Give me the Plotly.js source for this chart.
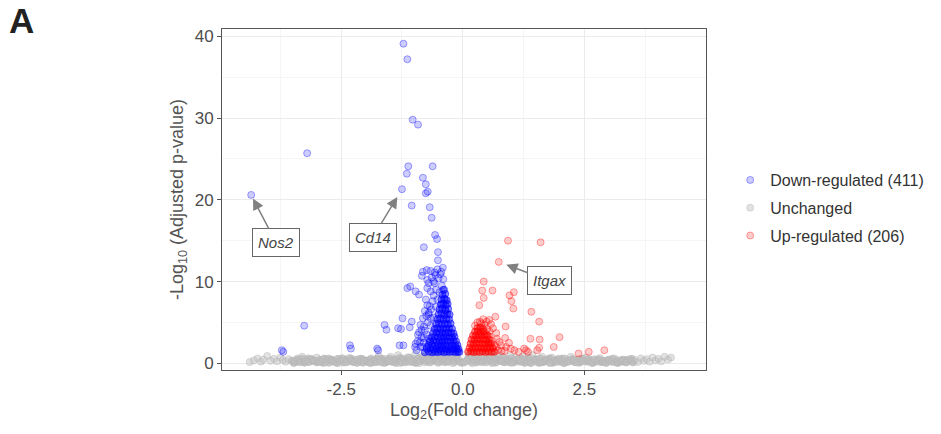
<!DOCTYPE html>
<html><head><meta charset="utf-8">
<script src="https://cdn.plot.ly/plotly-3.0.1.min.js"></script>
<style>html,body{margin:0;padding:0;background:#fff;}#chart{width:941px;height:434px;}</style>
</head><body><div id="chart"></div>
<script>
// ---- Unchanged genes (gray): sparse spread ----
const grayX = [
-4.38,-4.30,-4.22,-4.15,-4.10,-4.02,-3.95,-3.88,-3.82,-3.75,-3.70,-3.64,-3.58,-3.52,
-3.46,-3.40,-3.35,-3.30,-3.24,-3.18,-3.12,-3.06,-3.00,-2.94,-2.88,-2.82,-2.76,-2.70,-2.64,-2.58,-2.52,-2.46,-2.40,-2.34,-2.28,-2.22,-2.16,-2.10,-2.04,
-1.98,-1.93,-1.88,-1.83,-1.78,-1.73,-1.68,-1.63,-1.58,-1.53,-1.48,-1.43,-1.38,-1.33,-1.28,-1.23,-1.18,-1.13,-1.08,-1.03,-0.98,-0.93,-0.88,-0.83,-0.78,-0.73,-0.68,-0.63,-0.58,-0.53,-0.48,-0.43,-0.38,-0.33,-0.28,-0.23,-0.18,-0.13,-0.08,-0.04,
-1.90,-1.70,-1.50,-1.30,-1.10,-0.90,-0.70,-0.50,-0.30,-0.20,
-0.02,0.00,0.02,
0.04,0.08,0.13,0.18,0.23,0.28,0.33,0.38,0.43,0.48,0.53,0.58,0.63,0.68,0.73,0.78,0.83,0.88,0.93,0.98,1.03,1.08,1.13,1.18,1.23,1.28,1.33,1.38,1.43,1.48,1.53,1.58,1.63,1.68,1.73,1.78,1.83,1.88,1.93,1.98,
0.20,0.40,0.60,0.80,1.00,1.20,1.40,1.60,1.80,
2.04,2.10,2.16,2.22,2.28,2.34,2.40,2.46,2.52,2.58,2.64,2.70,2.76,2.82,2.88,2.94,3.00,3.06,3.12,3.18,3.24,3.30,3.36,3.42,3.48,
3.54,3.60,3.66,3.72,3.78,3.84,3.90,3.96,4.02,4.08,4.15,4.22,4.28
];
const grayY = [
0.15,0.35,0.60,0.20,0.45,0.90,0.30,0.55,0.25,0.70,0.40,0.20,0.50,0.30,
0.25,0.60,0.10,0.80,0.35,0.15,0.50,0.30,0.70,0.20,0.45,0.10,0.60,0.30,0.15,0.55,0.25,0.40,0.10,0.65,0.30,0.20,0.50,0.15,0.35,
0.30,0.10,0.60,0.40,0.20,0.90,0.35,0.05,0.55,0.25,0.80,0.15,0.45,1.00,0.30,0.60,0.10,0.75,0.40,0.20,1.10,0.50,0.25,0.85,0.10,0.60,1.20,0.35,0.90,0.15,1.15,0.50,0.80,0.25,1.00,0.60,0.35,0.70,0.20,0.10,
0.02,0.10,0.30,0.05,0.15,0.02,0.30,0.05,0.15,0.02,
0.05,0.10,0.20,
0.10,0.30,0.60,0.90,0.40,1.10,0.20,0.80,0.50,1.20,0.30,0.90,0.15,0.60,1.00,0.35,0.75,0.10,0.50,0.95,0.25,0.70,0.40,0.15,0.85,0.50,0.20,0.65,1.00,0.30,0.10,0.55,0.80,0.25,0.45,0.05,0.70,0.35,0.15,0.60,
0.02,0.10,0.02,0.20,0.05,0.30,0.02,0.15,0.05,
0.30,0.60,0.15,0.80,0.40,0.10,0.55,0.25,0.70,0.35,0.10,0.50,0.20,0.65,0.30,0.10,0.45,0.25,0.60,0.15,0.40,0.30,0.10,0.50,0.25,
0.40,0.15,0.60,0.30,0.50,0.20,0.70,0.35,0.55,0.25,0.80,0.45,0.70
];
// ---- Unchanged genes (gray): dense band ----
const grayBandX = [
-3.50,-3.45,-3.40,-3.35,-3.30,-3.25,-3.20,-3.15,-3.10,-3.05,-3.00,-2.95,-2.90,-2.85,-2.80,-2.75,-2.70,-2.65,-2.60,-2.55,-2.50,-2.45,-2.40,-2.35,-2.30,-2.25,-2.20,-2.15,-2.10,-2.05,-2.00,-1.95,-1.90,-1.85,-1.80,-1.75,-1.70,-1.65,-1.60,-1.55,-1.50,-1.45,-1.40,-1.35,-1.30,-1.25,-1.20,-1.15,-1.10,-1.05,-1.00,-0.95,-0.90,-0.85,-0.80,-0.75,-0.70,-0.65,-0.60,-0.55,-0.50,-0.45,-0.40,-0.35,-0.30,-0.25,-0.20,-0.15,-0.10,
-3.475,-3.375,-3.275,-3.175,-3.075,-2.975,-2.875,-2.775,-2.675,-2.575,-2.475,-2.375,-2.275,-2.175,-2.075,-1.975,-1.875,-1.775,-1.675,-1.575,-1.475,-1.375,-1.275,-1.175,-1.075,-0.975,-0.875,-0.775,-0.675,-0.575,-0.475,-0.375,-0.275,-0.175,-0.125,
0.10,0.15,0.20,0.25,0.30,0.35,0.40,0.45,0.50,0.55,0.60,0.65,0.70,0.75,0.80,0.85,0.90,0.95,1.00,1.05,1.10,1.15,1.20,1.25,1.30,1.35,1.40,1.45,1.50,1.55,1.60,1.65,1.70,1.75,1.80,1.85,1.90,1.95,2.00,2.05,2.10,2.15,2.20,2.25,2.30,2.35,2.40,2.45,2.50,2.55,2.60,2.65,2.70,2.75,2.80,2.85,2.90,2.95,3.00,3.05,3.10,3.15,3.20,3.25,3.30,3.35,3.40,3.45,3.50,
0.125,0.175,0.275,0.375,0.475,0.575,0.675,0.775,0.875,0.975,1.075,1.175,1.275,1.375,1.475,1.575,1.675,1.775,1.875,1.975,2.075,2.175,2.275,2.375,2.475,2.575,2.675,2.775,2.875,2.975,3.075,3.175,3.275,3.375,3.475
];
const grayBandY = [
0.30,0.12,0.45,0.22,0.55,0.08,0.38,0.18,0.50,0.28,0.10,0.42,0.20,0.58,0.32,0.06,0.47,0.25,0.15,0.52,0.35,0.09,0.44,0.27,0.60,0.14,0.40,0.24,0.55,0.07,0.36,0.19,0.50,0.30,0.12,0.62,0.26,0.44,0.08,0.38,0.58,0.18,0.48,0.28,0.66,0.10,0.42,0.34,0.70,0.20,0.52,0.14,0.64,0.38,0.75,0.24,0.56,0.82,0.30,0.68,0.46,0.90,0.36,0.72,0.50,0.95,0.40,0.78,0.55,
0.05,0.40,0.15,0.60,0.35,0.20,0.05,0.50,0.30,0.02,0.62,0.18,0.40,0.05,0.55,0.25,0.08,0.45,0.60,0.15,0.35,0.05,0.58,0.22,0.40,0.05,0.30,0.48,0.10,0.40,0.20,0.12,0.25,0.15,1.00,
0.50,0.85,0.35,0.92,0.45,0.70,0.25,0.88,0.40,0.65,0.20,0.78,0.46,0.30,0.68,0.15,0.55,0.36,0.62,0.10,0.48,0.28,0.58,0.18,0.44,0.64,0.08,0.38,0.52,0.22,0.60,0.12,0.42,0.30,0.55,0.06,0.34,0.48,0.20,0.58,0.10,0.40,0.26,0.52,0.14,0.36,0.06,0.46,0.28,0.18,0.50,0.08,0.38,0.24,0.44,0.12,0.32,0.05,0.42,0.22,0.15,0.36,0.08,0.30,0.45,0.12,0.25,0.38,0.10,
1.05,0.15,0.10,0.30,0.12,0.40,0.08,0.50,0.30,0.12,0.35,0.55,0.05,0.25,0.45,0.05,0.30,0.60,0.15,0.40,0.02,0.30,0.45,0.20,0.55,0.35,0.05,0.48,0.20,0.30,0.55,0.05,0.20,0.40,0.55
];

// ---- Down-regulated genes (blue): scattered ----
const downX = [-1.22,-1.14,-1.03,-0.92,-3.20,-4.35,-1.12,-0.62,-1.15,-0.82,-0.76,-0.72,-0.76,-1.25,-1.05,-0.68,-0.64,-0.57,-0.53,-0.80,-0.51,-0.51,-0.41,-0.44,-0.82,-0.74,-0.66,-0.58,-0.84,-0.73,-0.60,-1.14,-1.08,-0.97,-0.90,-0.73,-0.66,-0.76,-0.73,-0.78,-0.82,-1.24,-1.05,-1.61,-1.57,-1.33,-1.27,-1.09,-3.26,-0.87,-0.85,-0.80,-0.66,-1.30,-1.22,-0.97,-0.93,-0.87,-2.32,-2.30,-1.76,-1.74,-3.72,-3.69,-0.82,-0.80,-0.70,-0.74,-0.90,-0.95,-0.68,
-0.85,-0.80,-0.78,-0.72,-0.70,-0.68,-0.62,-0.60,-0.55,-0.58,-0.50,-0.46,-0.52,-0.48,-0.65,-0.75,-0.88,-0.92,-0.98,-0.66,-0.70,-0.74,-0.55,-0.60,-0.52,-0.43,-0.40,-0.38,-0.64,-0.70,-0.56,-0.44,-0.36,-0.35];
const downY = [39.1,37.2,29.8,29.2,25.7,20.6,24.1,24.1,23.2,22.7,21.9,21.0,20.8,21.3,19.3,19.1,17.8,15.7,15.2,14.2,13.6,12.6,11.7,11.2,11.2,11.4,11.3,11.1,10.7,10.2,10.0,9.2,9.4,8.8,8.4,9.2,8.8,7.8,7.1,6.4,5.5,5.5,5.1,4.7,4.1,4.3,4.2,4.4,4.6,4.7,4.1,4.5,5.5,2.2,2.2,2.4,2.7,2.0,2.2,1.8,1.8,1.6,1.6,1.4,2.0,3.1,6.0,3.5,3.8,1.6,2.6,
3.2,2.5,4.0,5.0,6.2,7.0,7.6,8.3,9.0,9.8,10.4,10.9,11.5,8.7,6.6,5.8,2.6,3.5,2.0,4.6,3.0,2.0,6.9,5.6,7.8,9.5,10.3,9.0,10.5,9.8,10.8,7.2,7.8,6.4];
// ---- Down-regulated genes (blue): dense core ----
const downCoreX = [
-0.78,-0.70,-0.63,-0.57,-0.51,-0.45,-0.39,-0.33,-0.27,-0.21,-0.15,-0.10,-0.07,
-0.74,-0.66,-0.60,-0.54,-0.48,-0.42,-0.36,-0.30,-0.24,-0.18,-0.13,-0.09,
-0.71,-0.63,-0.57,-0.51,-0.45,-0.40,-0.34,-0.28,-0.22,-0.16,-0.11,
-0.67,-0.60,-0.54,-0.48,-0.42,-0.37,-0.31,-0.25,-0.19,-0.14,
-0.64,-0.57,-0.51,-0.45,-0.39,-0.34,-0.28,-0.22,-0.17,
-0.61,-0.54,-0.48,-0.42,-0.36,-0.30,-0.24,-0.19,
-0.58,-0.52,-0.46,-0.40,-0.34,-0.28,-0.22,
-0.55,-0.49,-0.43,-0.37,-0.31,-0.25,
-0.52,-0.46,-0.40,-0.34,-0.28,
-0.50,-0.44,-0.38,-0.32,-0.27,
-0.48,-0.42,-0.36,-0.30,
-0.45,-0.40,-0.35,-0.31,
-0.44,-0.38,-0.33,
-0.42,-0.36,
-0.40
];
const downCoreY = [
1.35,1.42,1.33,1.40,1.36,1.44,1.34,1.41,1.37,1.43,1.35,1.40,1.38,
1.75,1.82,1.70,1.78,1.73,1.80,1.76,1.71,1.79,1.74,1.81,1.77,
2.20,2.28,2.15,2.24,2.18,2.26,2.21,2.16,2.25,2.19,2.23,
2.70,2.78,2.64,2.74,2.68,2.76,2.71,2.66,2.75,2.69,
3.20,3.28,3.14,3.24,3.18,3.26,3.21,3.16,3.25,
3.70,3.79,3.64,3.74,3.68,3.77,3.71,3.66,
4.20,4.30,4.14,4.26,4.18,4.28,4.22,
4.80,4.90,4.72,4.86,4.76,4.88,
5.40,5.50,5.32,5.46,5.36,
6.00,6.12,5.92,6.06,5.96,
6.60,6.72,6.52,6.66,
7.20,7.32,7.12,7.26,
7.80,7.92,7.72,
8.40,8.50,
9.00
];

// ---- Up-regulated genes (red): scattered ----
const upX = [0.93,1.60,0.74,0.43,0.40,0.61,0.43,1.05,0.96,1.00,0.34,1.04,1.41,1.57,0.67,0.88,1.99,1.39,1.58,0.87,1.87,2.38,2.59,2.91,1.57,1.53,1.30,1.34,1.26,1.06,0.99,0.89,0.79,0.69,0.72,0.86,0.55,0.62,0.49,0.54,0.35,0.45,0.69,0.55,0.80,0.95,1.15,
0.55,0.60,0.65,0.50,0.42,0.30,0.25,0.70,0.75,0.58,0.38,0.48];
const upY = [15.0,14.8,12.4,10.0,8.9,8.9,8.0,8.7,8.3,7.6,7.1,6.7,6.3,5.1,5.7,4.5,3.2,3.0,2.9,3.1,2.0,1.2,1.4,1.6,1.9,1.6,1.6,1.4,1.8,1.6,1.8,2.0,2.2,2.0,1.6,1.5,2.4,4.3,5.1,5.3,5.1,4.7,3.7,3.9,1.5,2.5,1.4,
3.3,2.8,2.2,4.2,5.4,5.0,4.6,3.0,2.6,4.8,4.9,3.6];
// ---- Up-regulated genes (red): dense core ----
const upCoreX = [
0.11,0.17,0.23,0.29,0.35,0.41,0.47,0.53,0.59,0.65,
0.14,0.20,0.26,0.32,0.38,0.44,0.50,0.56,0.62,
0.16,0.22,0.28,0.34,0.40,0.46,0.52,0.58,
0.18,0.24,0.30,0.36,0.42,0.48,0.54,
0.21,0.27,0.33,0.39,0.45,0.51,
0.25,0.31,0.37,0.43,
0.30,0.36,0.41
];
const upCoreY = [
1.40,1.45,1.36,1.43,1.38,1.46,1.37,1.44,1.39,1.41,
1.90,1.85,1.93,1.87,1.91,1.84,1.89,1.92,1.86,
2.40,2.36,2.45,2.38,2.42,2.35,2.44,2.39,
2.90,2.86,2.94,2.88,2.92,2.85,2.91,
3.40,3.36,3.45,3.38,3.42,3.37,
3.85,3.92,3.82,3.90,
4.30,4.40,4.25
];

const xTickVals = [-2.5, 0, 2.5];
const xTickText = ['-2.5', '0.0', '2.5'];
const yTickVals = [0, 10, 20, 30, 40];
const legendNames = ['Down-regulated (411)', 'Unchanged', 'Up-regulated (206)'];
const labelGenes = ['Nos2', 'Cd14', 'Itgax'];
const labelX = [-4.35, -1.25, 0.74];
const labelY = [20.6, 21.3, 12.4];

const FONT = 'Liberation Sans, Arial, Helvetica, sans-serif';

function mk(fill, line) { return {size: 7, color: fill, line: {color: line, width: 1}}; }

const traces = [
  {type: 'scatter', mode: 'markers', x: grayBandX, y: grayBandY, name: legendNames[1],
   legendgroup: 'g2', showlegend: false, hoverinfo: 'skip',
   marker: mk('rgba(190,190,190,0.75)', 'rgba(185,185,185,0.7)')},
  {type: 'scatter', mode: 'markers', x: grayX, y: grayY, name: legendNames[1],
   legendgroup: 'g2', legendrank: 2, hoverinfo: 'skip',
   marker: mk('rgba(190,190,190,0.45)', 'rgba(180,180,180,0.45)')},
  {type: 'scatter', mode: 'markers', x: downCoreX, y: downCoreY, name: legendNames[0],
   legendgroup: 'g1', showlegend: false, hoverinfo: 'skip',
   marker: mk('rgba(0,0,255,0.45)', 'rgba(0,0,255,0.5)')},
  {type: 'scatter', mode: 'markers', x: downX, y: downY, name: legendNames[0],
   legendgroup: 'g1', legendrank: 1, hoverinfo: 'skip',
   marker: mk('rgba(0,0,255,0.2)', 'rgba(0,0,255,0.35)')},
  {type: 'scatter', mode: 'markers', x: upCoreX, y: upCoreY, name: legendNames[2],
   legendgroup: 'g3', showlegend: false, hoverinfo: 'skip',
   marker: mk('rgba(255,0,0,0.45)', 'rgba(255,0,0,0.5)')},
  {type: 'scatter', mode: 'markers', x: upX, y: upY, name: legendNames[2],
   legendgroup: 'g3', legendrank: 3, hoverinfo: 'skip',
   marker: mk('rgba(255,0,0,0.2)', 'rgba(255,0,0,0.35)')}
];

const offsets = [[25, 48], [-29, 48], [51, 19]];
const standoffs = [4, 9, 8];
const annotations = labelGenes.map((g, i) => ({
  x: labelX[i], y: labelY[i], xref: 'x', yref: 'y',
  text: '<i>' + g + '</i>', showarrow: true,
  ax: offsets[i][0], ay: offsets[i][1],
  arrowhead: 2, arrowsize: 1.5, arrowwidth: 1.5, arrowcolor: '#808080',
  standoff: standoffs[i],
  font: {family: FONT, size: 15, color: '#444'},
  bgcolor: '#ffffff', bordercolor: '#666', borderwidth: 1, borderpad: 5
}));
annotations.push({
  xref: 'paper', yref: 'paper', x: -0.445, y: 1.026, xanchor: 'left', yanchor: 'middle',
  text: '<b>A</b>', showarrow: false, font: {family: FONT, size: 35, color: '#222'}
});

const layout = {
  width: 941, height: 434,
  margin: {l: 222, r: 229, t: 29, b: 64},
  paper_bgcolor: '#fff', plot_bgcolor: '#fff',
  font: {family: FONT, color: '#4d4d4d'},
  showlegend: true,
  legend: {x: 1.05, xanchor: 'left', y: 0.475, yanchor: 'middle',
           font: {family: FONT, size: 16, color: '#333'},
           traceorder: 'grouped', tracegroupgap: 4, itemclick: false},
  xaxis: {
    range: [-4.95, 5.0], tickvals: xTickVals, ticktext: xTickText,
    showgrid: true, gridcolor: '#ebebeb', gridwidth: 1, zeroline: false,
    minor: {tickvals: [-3.75, -1.25, 1.25, 3.75], showgrid: true, gridcolor: '#f5f5f5', ticks: ''},
    showline: true, mirror: true, linecolor: '#555', linewidth: 1,
    ticks: 'outside', ticklen: 4, tickcolor: '#555', tickwidth: 1,
    tickfont: {family: FONT, size: 17, color: '#4d4d4d'},
    title: {text: 'Log<sub>2</sub>(Fold change)', standoff: 4, font: {family: FONT, size: 18, color: '#555'}}
  },
  yaxis: {
    range: [-0.82, 40.9], tickvals: yTickVals,
    showgrid: true, gridcolor: '#ebebeb', gridwidth: 1, zeroline: false,
    minor: {tickvals: [5, 15, 25, 35], showgrid: true, gridcolor: '#f5f5f5', ticks: ''},
    showline: true, mirror: true, linecolor: '#555', linewidth: 1,
    ticks: 'outside', ticklen: 4, tickcolor: '#555', tickwidth: 1,
    tickfont: {family: FONT, size: 17, color: '#4d4d4d'},
    title: {text: '-Log<sub>10</sub> (Adjusted p-value)', standoff: 6, font: {family: FONT, size: 18, color: '#555'}}
  },
  annotations: annotations
};

Plotly.newPlot('chart', traces, layout, {displayModeBar: false, staticPlot: true});
</script>
</body></html>
